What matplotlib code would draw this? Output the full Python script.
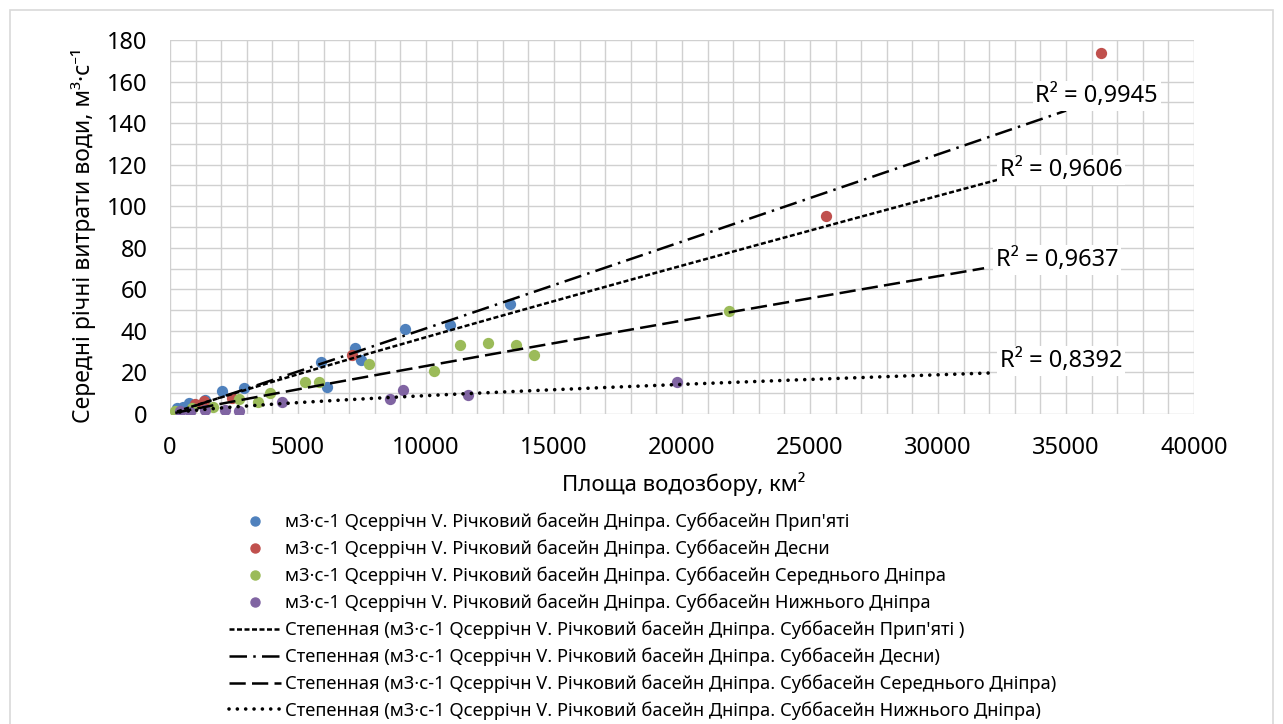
import numpy as np
import matplotlib
matplotlib.use('Agg')
import matplotlib.pyplot as plt
from matplotlib.lines import Line2D
from matplotlib.patches import Rectangle

plt.rcParams['font.family'] = ['Noto Sans', 'DejaVu Sans']

# ===== DATA =====
# площа водозбору, км2 / середні річні витрати, м3/с
prypiat_area = [274, 508, 731, 1368, 2033, 2873, 5891, 6126, 7232, 7466, 9187, 10919, 13292]
prypiat_q = [2.9, 3.4, 5.2, 6.8, 11.1, 12.5, 24.9, 12.9, 31.7, 26.1, 40.9, 42.8, 53.1]

desna_area = [977, 1317, 2424, 7127, 25633, 36357]
desna_q = [4.8, 6.3, 7.6, 28.5, 95.2, 173.6]

middle_area = [207, 860, 1681, 2686, 3440, 3909, 5278, 5805, 7780, 10293, 11310, 12404, 13515, 14203, 21826]
middle_q = [1.4, 2.9, 3.5, 7.2, 5.9, 10.0, 15.6, 15.6, 24.0, 20.9, 33.0, 34.1, 33.0, 28.5, 49.4]

lower_area = [391, 782, 1368, 2150, 2686, 4378, 8600, 9121, 11622, 19809]
lower_q = [1.4, 1.1, 1.9, 1.9, 1.4, 5.6, 7.2, 11.6, 9.2, 15.6]

# power trendlines y = a * x^b, and where each one ends, km2
trend_a = [0.00586, 0.003757, 0.00334, 0.01537]
trend_b = [0.95, 1.01, 0.96, 0.69]
trend_end = [32400, 35000, 31800, 32200]
r2_labels = ['R² = 0,9606', 'R² = 0,9945', 'R² = 0,9637', 'R² = 0,8392']

basins = ["Прип'яті", 'Десни', 'Середнього Дніпра', 'Нижнього Дніпра']
prefix = 'м3·с-1 Qсеррічн V. Річковий басейн Дніпра. Суббасейн '

colors = ['#4F81BD', '#C0504D', '#9BBB59', '#8064A2']
styles = [(0, (2, 1)), (0, (7, 2.5, 1, 2.5)), (0, (6.5, 2.5)), (0, (0.01, 2.3))]
widths = [1.8, 1.8, 1.8, 2.6]
# label centres (data coords)
r2_pos = [(34800, 117.5), (36200, 153), (34650, 74), (34800, 25.5)]

series = [(prypiat_area, prypiat_q), (desna_area, desna_q),
          (middle_area, middle_q), (lower_area, lower_q)]

# ===== PLOT =====
fig = plt.figure(figsize=(12.83, 7.24), dpi=100)
ax = fig.add_axes([170 / 1283, 1 - 414 / 724, 1024 / 1283, 374 / 724])

pt_handles = []
ln_handles = []
for i, (xs, ys) in enumerate(series):
    xs = np.array(xs, dtype=float)
    ax.scatter(xs, ys, s=66, color=colors[i], zorder=2, linewidths=0)
    xt = np.linspace(xs.min(), trend_end[i], 400)
    yt = trend_a[i] * xt ** trend_b[i]
    cap = 'round' if i == 3 else 'butt'
    ax.plot(xt, yt, color='black', linestyle=styles[i], lw=widths[i], dash_capstyle=cap, zorder=3)
    ax.text(r2_pos[i][0], r2_pos[i][1], r2_labels[i], fontsize=17, ha='center', va='center',
            zorder=5, bbox=dict(facecolor='white', edgecolor='none', pad=2))
    pt_handles.append(Line2D([], [], marker='o', linestyle='none', color=colors[i], markersize=6.5))
    ln_handles.append(Line2D([], [], color='black', linestyle=styles[i], lw=widths[i], dash_capstyle=cap))

ax.set_xlim(0, 40000)
ax.set_ylim(0, 180)
ax.set_xticks(np.arange(0, 40001, 5000))
ax.set_yticks(np.arange(0, 181, 20))
ax.set_xticks(np.arange(0, 40001, 1000), minor=True)
ax.set_yticks(np.arange(0, 181, 10), minor=True)
ax.grid(True, which='both', color='#D0D0D0', lw=1.0, zorder=0)
ax.set_axisbelow(True)
for s in ax.spines.values():
    s.set_visible(False)
ax.tick_params(which='both', length=0, labelsize=17, pad=16)

fig.text(84 / 1283, 1 - 236 / 724, 'Середні річні витрати води, м³·с⁻¹', rotation=90,
         ha='center', va='center', fontsize=16.5)
fig.text(684 / 1283, 1 - 484 / 724, 'Площа водозбору, км²', ha='center', va='center', fontsize=16)

labels = [prefix + b for b in basins]
trend_labels = ['Степенная (' + prefix + basins[0] + ' )'] + \
               ['Степенная (' + prefix + b + ')' for b in basins[1:]]
fig.legend(pt_handles + ln_handles, labels + trend_labels, loc='upper left',
           bbox_to_anchor=(229 / 1283, 1 - 513 / 724), frameon=False, fontsize=13.2,
           handlelength=2.85, handletextpad=0.2, labelspacing=0.46, borderpad=0,
           borderaxespad=0)

# outer chart border
fig.patches.append(Rectangle((10 / 1283, -0.05), 1263 / 1283, 1.05 - 10 / 724,
                             transform=fig.transFigure, fill=False, edgecolor='#D9D9D9', lw=1.2))

fig.savefig('out.png', dpi=100)
